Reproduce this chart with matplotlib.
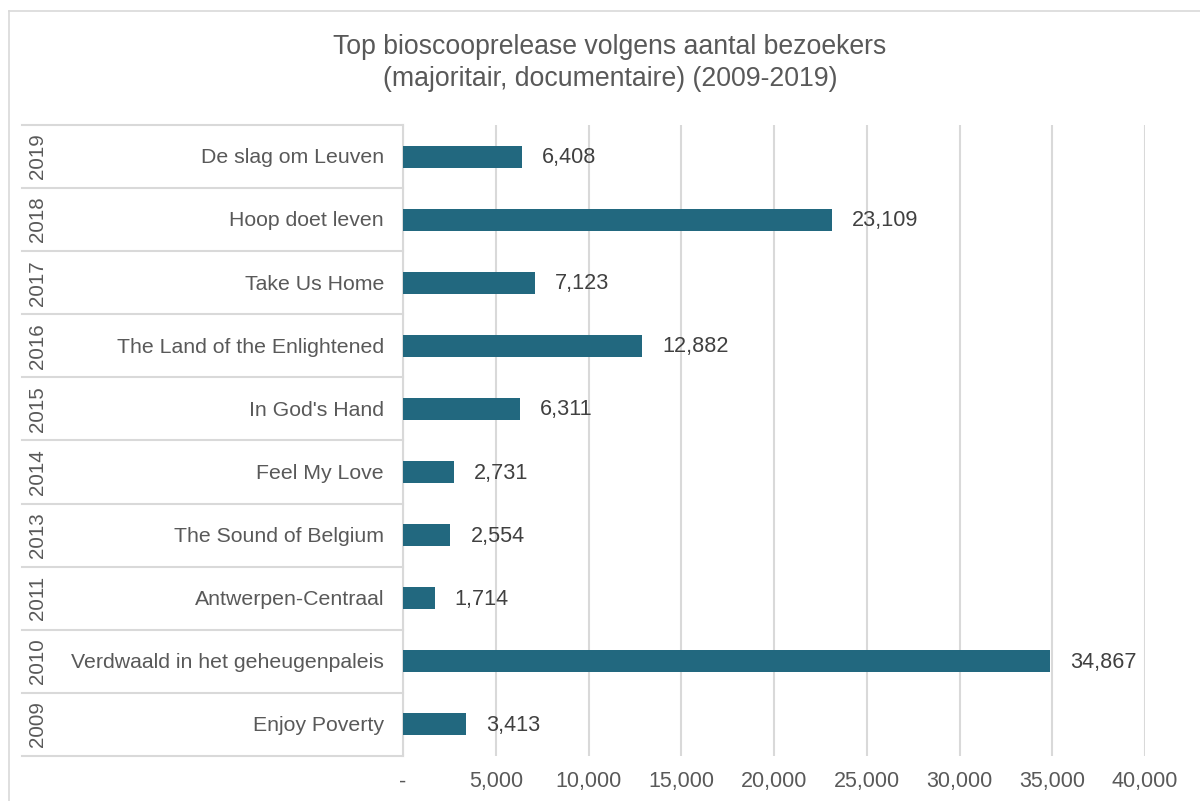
import matplotlib
matplotlib.use("Agg")
import matplotlib.pyplot as plt
from matplotlib.transforms import blended_transform_factory
from matplotlib.lines import Line2D

plt.rcParams['font.family'] = ['Liberation Sans', 'DejaVu Sans']

# Data (top to bottom as shown)
years = ["2019", "2018", "2017", "2016", "2015", "2014", "2013", "2011", "2010", "2009"]
films = ["De slag om Leuven", "Hoop doet leven", "Take Us Home",
         "The Land of the Enlightened", "In God's Hand", "Feel My Love",
         "The Sound of Belgium", "Antwerpen-Centraal",
         "Verdwaald in het geheugenpaleis", "Enjoy Poverty"]
visitors = [6408, 23109, 7123, 12882, 6311, 2731, 2554, 1714, 34867, 3413]
x_ticks = [0, 5000, 10000, 15000, 20000, 25000, 30000, 35000, 40000]
x_tick_labels = ["-", "5,000", "10,000", "15,000", "20,000", "25,000",
                 "30,000", "35,000", "40,000"]
title = "Top bioscooprelease volgens aantal bezoekers\n(majoritair, documentaire) (2009-2019)"

BAR = "#22687F"
GRID = "#D9D9D9"
TXT = "#595959"
VAL = "#404040"

W, H = 1200, 801
fig = plt.figure(figsize=(W / 100, H / 100), dpi=100)

# outer chart frame (only top and left edges fall inside the canvas)
fig.add_artist(Line2D([9 / W, 9 / W], [0, 1 - 11 / H], color=GRID, lw=1.2,
                      transform=fig.transFigure))
fig.add_artist(Line2D([9 / W, 1], [1 - 11 / H, 1 - 11 / H], color=GRID, lw=1.2,
                      transform=fig.transFigure))

left, right, top, bottom = 403, 1145, 125, 756
ax = fig.add_axes([left / W, 1 - bottom / H, (right - left) / W, (bottom - top) / H])

n = len(films)
ypos = list(range(n))
ax.barh(ypos, visitors, height=0.35, color=BAR, zorder=3)
ax.set_ylim(n - 0.5, -0.5)
ax.set_xlim(0, 40000)

ax.set_xticks(x_ticks)
ax.set_xticklabels(x_tick_labels, fontsize=15.5, color=TXT)
ax.tick_params(axis='x', length=0, pad=11)
ax.set_yticks([])
ax.grid(axis='x', color=GRID, lw=1.5, zorder=0)
for s in ["top", "right", "bottom"]:
    ax.spines[s].set_visible(False)
ax.spines["left"].set_color(GRID)
ax.spines["left"].set_linewidth(1.5)

for y, v in zip(ypos, visitors):
    ax.annotate(f"{v:,}", xy=(v, y), xytext=(20, -1), textcoords="offset pixels",
                ha="left", va="center", fontsize=15.6, color=VAL)

# category table on the left: film names and years
tr = blended_transform_factory(fig.transFigure, ax.transData)
for k in range(n + 1):
    ax.add_line(Line2D([22 / W, left / W], [k - 0.5, k - 0.5], color=GRID, lw=1.5,
                       transform=tr, clip_on=False))
for y, name, yr in zip(ypos, films, years):
    ax.text(384 / W, y + 0.02, name, transform=tr, ha="right", va="center",
            fontsize=15.3, color=TXT)
    ax.text(37 / W, y, yr, transform=tr, ha="center", va="center",
            rotation=90, fontsize=14.8, color=TXT)

fig.text(610 / W, 1 - 63 / H, title, ha="center", va="center",
         fontsize=19.2, color=TXT, linespacing=1.3)

fig.savefig("out.png", dpi=100)
